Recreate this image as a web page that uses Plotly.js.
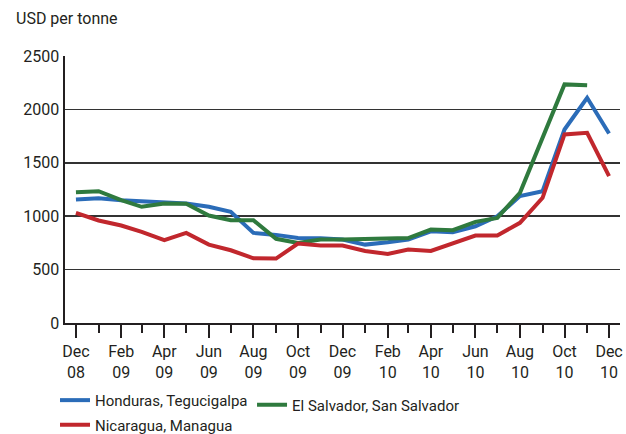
<!DOCTYPE html>
<html>
<head>
<meta charset="utf-8">
<script src="https://cdn.plot.ly/plotly-3.0.1.min.js"></script>
<style>html,body{margin:0;padding:0;background:#fff}#chart{width:626px;height:434px}</style>
</head>
<body>
<div id="chart"></div>
<script>
const months = ["2008-12-01","2009-01-01","2009-02-01","2009-03-01","2009-04-01","2009-05-01","2009-06-01","2009-07-01","2009-08-01","2009-09-01","2009-10-01","2009-11-01","2009-12-01","2010-01-01","2010-02-01","2010-03-01","2010-04-01","2010-05-01","2010-06-01","2010-07-01","2010-08-01","2010-09-01","2010-10-01","2010-11-01","2010-12-01"];
const honduras = [1157,1169,1150,1141,1126,1119,1088,1041,844,825,797,794,781,734,756,781,859,850,906,1000,1188,1234,1812,2109,1775];
const elSalvador = [1225,1234,1150,1088,1119,1116,1006,962,962,788,750,781,781,785,790,795,875,869,947,984,1219,1734,2234,2225,null];
const nicaragua = [1031,960,913,853,775,844,734,681,606,603,744,725,725,675,647,688,675,750,819,819,938,1172,1766,1781,1375];
const names = ["Honduras, Tegucigalpa","El Salvador, San Salvador","Nicaragua, Managua"];
const colors = ["#2b6cb8","#2f7a3e","#c1272d"];
const legendIds = ["legend","legend3","legend2"];

const FONT = "Roboto, 'Noto Sans', sans-serif";
const series = [honduras, elSalvador, nicaragua];
const traces = series.map((s,i)=>({
  x: months, y: s, type: "scatter", mode: "lines", name: names[i],
  line: {color: colors[i], width: 4}, connectgaps: false, legend: legendIds[i]
}));

const legendBase = {orientation: "h", x: -0.018, xanchor: "left", yanchor: "top",
  font: {size: 15}, tracegroupgap: 0, itemwidth: 30, bgcolor: "rgba(0,0,0,0)"};

const layout = {
  width: 626, height: 434,
  margin: {l: 65, r: 6, t: 56, b: 111, autoexpand: false},
  paper_bgcolor: "#fff", plot_bgcolor: "#fff",
  font: {family: FONT, size: 16, color: "#231f20"},
  showlegend: true,
  legend: Object.assign({}, legendBase, {y: -0.228}),
  legend3: Object.assign({}, legendBase, {x: 0.337, y: -0.245}),
  legend2: Object.assign({}, legendBase, {y: -0.32}),
  xaxis: {
    type: "date", range: ["2008-11-16","2010-12-16"],
    tick0: "2008-12-01", dtick: "M2", tickformat: "%b<br>%y",
    ticks: "outside", ticklen: 13, tickwidth: 2, tickcolor: "#231f20",
    minor: {dtick: "M1", ticks: "outside", ticklen: 8, tickwidth: 2, tickcolor: "#231f20", showgrid: false},
    showgrid: false, showline: true, linecolor: "#231f20", linewidth: 2,
    zeroline: false, tickfont: {size: 16}
  },
  yaxis: {
    range: [0, 2500], dtick: 500, tick0: 0,
    showgrid: true, gridcolor: "#333", gridwidth: 1.5,
    showline: true, linecolor: "#231f20", linewidth: 2.5,
    zeroline: false, ticks: "", tickfont: {size: 16}
  },
  annotations: [{
    text: "USD per tonne", xref: "paper", yref: "paper",
    x: -0.092, y: 1.142, xanchor: "left", yanchor: "middle",
    showarrow: false, font: {size: 16}
  }]
};
Plotly.newPlot("chart", traces, layout, {displayModeBar: false, staticPlot: true});
</script>
</body>
</html>
